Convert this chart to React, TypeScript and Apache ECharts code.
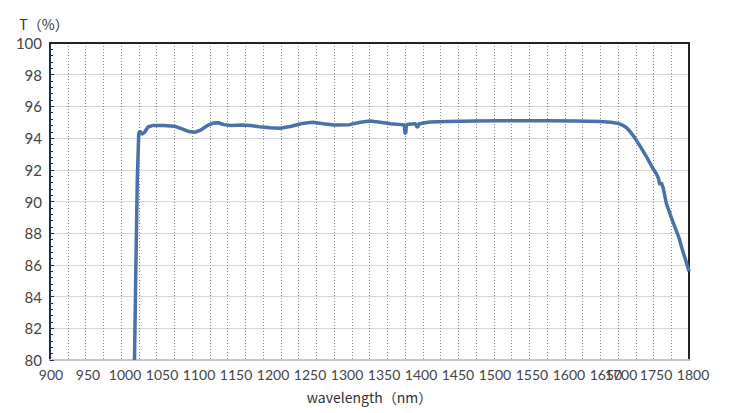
import React, { useEffect, useRef } from "react";
import * as echarts from "echarts";

const wavelengths = [
  1019, 1021, 1023, 1025, 1026.5, 1029, 1033, 1038, 1045, 1060, 1075, 1085, 1095, 1104, 1112,
  1122, 1130, 1137, 1145, 1155, 1170, 1182, 1195, 1210, 1224, 1240, 1255, 1270, 1285, 1300,
  1322, 1337, 1351, 1365, 1380, 1395, 1399, 1400, 1401, 1402, 1405, 1415, 1417, 1418, 1420,
  1435, 1460, 1500, 1534, 1570, 1600, 1640, 1675, 1690, 1700, 1706, 1712, 1717, 1724, 1733,
  1741, 1749, 1754, 1757, 1759, 1761, 1764, 1768, 1775, 1780, 1786, 1791, 1796, 1800,
];
const transmittance = [
  80, 86, 91.5, 94.3, 94.45, 94.25, 94.35, 94.7, 94.8, 94.8, 94.75, 94.6, 94.42, 94.37, 94.5,
  94.8, 94.95, 94.97, 94.85, 94.8, 94.82, 94.8, 94.72, 94.65, 94.62, 94.75, 94.92, 95.0, 94.9, 94.82,
  94.85, 95.0, 95.08, 95.0, 94.9, 94.85, 94.85, 94.3, 94.3, 94.85, 94.88, 94.9, 94.7, 94.7, 94.9,
  95.02, 95.05, 95.08, 95.1, 95.1, 95.1, 95.08, 95.05, 95.0, 94.93, 94.82, 94.65, 94.42, 94.0, 93.35,
  92.75, 92.1, 91.75, 91.45, 91.05, 91.2, 90.8, 89.9, 89.0, 88.4, 87.7, 86.9, 86.2, 85.6,
];
const xTicks = { min: 900, max: 1800, step: 50 };
const yTicks = { min: 80, max: 100, step: 2 };
const yName = "T（%）";
const xName = "wavelength（nm）";

// label drift (px) of each x tick label relative to its tick, as seen in the reference
function labelShift(k: number): number {
  if (k <= 15) return 1 + 1.5 * k;
  if (k === 16) return 3;
  if (k === 17) return 2.5;
  return 4;
}

export default function App() {
  const ref = useRef<HTMLDivElement>(null);
  useEffect(() => {
    if (!ref.current) return;
    const chart = echarts.init(ref.current, undefined, { renderer: "svg" });
    const labelColor = "#454545";
    const numFont = "Lato";
    const rich: Record<string, any> = {};
    for (let k = 0; k <= 18; k++) {
      const pad = Math.round(labelShift(k) * 2);
      rich["p" + pad] = {
        color: labelColor,
        fontSize: 14,
        fontFamily: numFont,
        padding: [0, 0, 0, pad],
      };
    }
    chart.setOption({
      animation: false,
      backgroundColor: "#ffffff",
      grid: { left: 50, right: 54, top: 43, bottom: 53, containLabel: false },
      xAxis: [
        {
          type: "value",
          min: xTicks.min,
          max: xTicks.max,
          interval: xTicks.step,
          name: xName,
          nameLocation: "middle",
          nameGap: 30,
          nameTextStyle: { color: "#333", fontSize: 14, fontFamily: "Noto Sans CJK JP" },
          axisLine: { show: true, lineStyle: { color: "#c8c8c8", width: 2 } },
          axisTick: { show: false },
          axisLabel: {
            color: labelColor,
            fontSize: 14,
            fontFamily: numFont,
            margin: 7,
            formatter: (v: number) => {
              const k = Math.round((v - xTicks.min) / xTicks.step);
              return "{p" + Math.round(labelShift(k) * 2) + "|" + v + "}";
            },
            rich,
          },
          splitLine: { show: true, lineStyle: { color: "#8a8a8a", type: [1, 2], width: 1 } },
          minorTick: { show: false, splitNumber: 2 },
          minorSplitLine: { show: true, lineStyle: { color: "#8a8a8a", type: [1, 2], width: 1 } },
        },
        {
          type: "value",
          position: "top",
          min: xTicks.min,
          max: xTicks.max,
          interval: xTicks.step,
          axisLine: { show: true, lineStyle: { color: "#222222", width: 2 } },
          axisTick: { show: false },
          axisLabel: { show: false },
          splitLine: { show: false },
        },
      ],
      yAxis: [
        {
          type: "value",
          min: yTicks.min,
          max: yTicks.max,
          interval: yTicks.step,
          name: yName,
          nameLocation: "end",
          nameGap: 12,
          nameTextStyle: { color: "#333", fontSize: 14, fontFamily: "Noto Sans CJK JP", padding: [0, 12, 0, 0] },
          axisLine: { show: true, lineStyle: { color: "#1f2f40", width: 2 } },
          axisTick: { show: true, inside: true, length: 4, lineStyle: { color: "#1f2f40" } },
          minorTick: { show: true, splitNumber: 5, length: 3, lineStyle: { color: "#1f2f40" } },
          axisLabel: { color: labelColor, fontSize: 15, fontFamily: numFont, margin: 8 },
          splitLine: { show: true, lineStyle: { color: "#d6d6d6", width: 1 } },
        },
        {
          type: "value",
          position: "right",
          min: yTicks.min,
          max: yTicks.max,
          interval: yTicks.step,
          axisLine: { show: true, lineStyle: { color: "#222222", width: 2 } },
          axisTick: { show: false },
          axisLabel: { show: false },
          splitLine: { show: false },
        },
      ],
      series: [
        {
          type: "line",
          xAxisIndex: 0,
          yAxisIndex: 0,
          data: wavelengths.map((w, i) => [w, transmittance[i]]),
          showSymbol: false,
          lineStyle: { color: "#4a72a6", width: 3.5 },
          smooth: false,
        },
      ],
    });
    return () => chart.dispose();
  }, []);
  return (
    <div
      ref={ref}
      style={{ position: "fixed", left: 0, top: 0, width: 743, height: 413, background: "#fff" }}
    />
  );
}
